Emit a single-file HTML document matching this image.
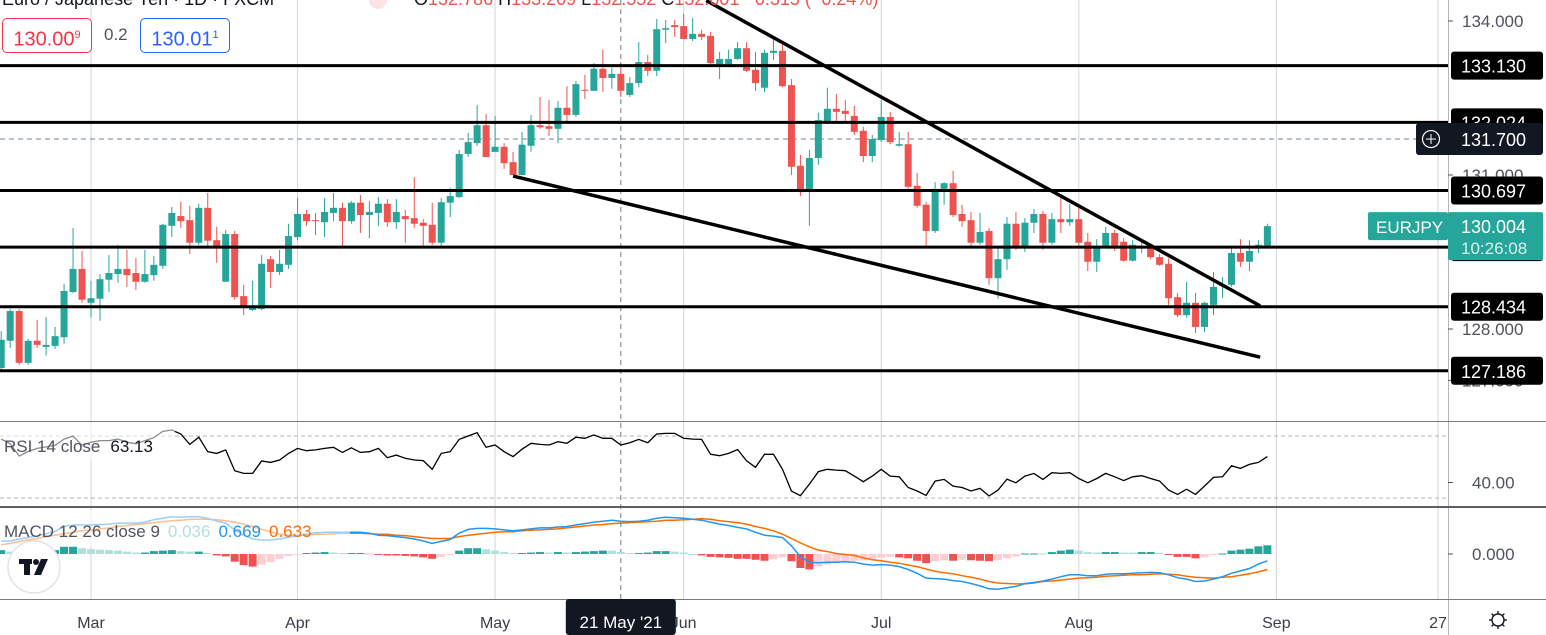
<!DOCTYPE html>
<html><head><meta charset="utf-8">
<style>
html,body{margin:0;padding:0;background:#fff;}
body{width:1546px;height:635px;overflow:hidden;position:relative;font-family:"Liberation Sans",sans-serif;}
svg{position:absolute;left:0;top:0;}
.box{position:absolute;height:33px;border-radius:5px;background:#fff;font-size:20px;line-height:33px;text-align:center;}
.box sup{font-size:11px;}
</style></head>
<body>
<svg id="chart" width="1546" height="635" xmlns="http://www.w3.org/2000/svg"></svg>
<div class="box" style="left:2px;top:18px;width:88px;border:1px solid #f23645;color:#f23645;">130.00<sup>9</sup></div>
<div style="position:absolute;left:104px;top:25px;font-size:17px;color:#50535e;">0.2</div>
<div class="box" style="left:140px;top:18px;width:88px;border:1px solid #2962ff;color:#2962ff;">130.01<sup>1</sup></div>
<script>
const startIndex = -10;
const opens = [127.24,127.77,128.35,127.34,127.77,127.65,127.67,127.84,128.72,129.17,
128.51,128.59,128.96,129.07,129.17,129.09,128.92,129.05,129.23,130.01,
130.20,130.12,129.68,130.36,129.73,128.92,129.85,128.64,128.37,128.39,
129.36,129.11,129.25,129.79,130.24,130.12,130.08,130.26,130.36,130.10,
130.46,130.22,130.26,130.44,130.08,130.20,130.16,130.07,130.03,129.68,
130.46,130.57,131.41,131.62,131.97,131.45,131.55,131.25,131.00,131.57,
131.97,131.95,131.90,132.31,132.17,132.66,132.64,133.07,132.89,132.97,
132.56,132.79,133.20,133.03,133.83,133.92,133.90,133.65,133.75,133.71,
133.16,133.16,133.26,133.47,133.05,132.70,133.38,133.42,132.75,131.18,
130.71,131.33,132.05,132.29,132.25,132.15,131.86,131.37,131.68,132.13,
131.57,131.60,130.79,130.42,129.91,130.73,130.84,130.24,130.12,129.68,
129.91,128.99,129.36,130.05,129.60,130.07,130.24,129.68,130.14,130.08,
130.14,129.70,129.31,129.60,129.87,129.70,129.33,129.58,129.60,129.40,
129.27,128.62,128.27,128.51,128.04,128.47,128.84,128.86,129.48,129.31,
129.60,129.60];
const closes = [127.79,128.35,127.34,127.77,127.69,127.69,127.86,128.74,129.17,128.57,
128.60,128.97,129.09,129.17,129.05,128.92,129.07,129.25,130.03,130.26,
130.10,129.68,130.36,129.72,129.58,129.85,128.62,128.45,128.45,129.27,
129.11,129.27,129.81,130.24,130.10,130.10,130.28,130.36,130.10,130.46,
130.22,130.28,130.44,130.08,130.28,130.14,130.05,130.01,129.68,130.47,
130.59,131.41,131.64,131.97,131.35,131.55,131.23,131.00,131.59,131.97,
131.93,131.90,132.31,132.17,132.77,132.64,133.07,132.89,132.97,132.64,
132.79,133.20,133.03,133.84,133.86,133.88,133.65,133.75,133.69,133.18,
133.26,133.26,133.47,133.03,132.79,133.38,133.42,132.73,131.16,130.71,
131.33,132.07,132.29,132.23,132.19,131.84,131.37,131.70,132.13,131.64,
131.60,130.77,130.40,129.91,130.73,130.84,130.22,130.10,129.68,129.89,
128.99,129.36,130.05,129.60,130.07,130.24,129.68,130.14,130.08,130.14,
129.68,129.31,129.62,129.87,129.60,129.33,129.64,129.62,129.40,129.25,
128.60,128.27,128.51,128.04,128.51,128.82,128.86,129.48,129.31,129.52,
129.64,130.004];
const highs = [127.96,128.39,128.39,127.81,128.18,128.23,128.04,128.88,129.97,129.52,
128.94,129.07,129.44,129.64,129.54,129.38,129.54,129.42,130.05,130.38,
130.48,130.40,130.44,130.65,129.99,129.93,129.91,128.86,128.94,129.44,
129.42,129.54,130.05,130.55,130.32,130.26,130.55,130.65,130.46,130.49,
130.61,130.49,130.57,130.53,130.53,130.32,130.96,130.14,130.46,130.55,
130.75,131.49,131.82,132.36,132.19,132.15,131.62,131.45,131.84,132.17,
132.52,132.46,132.44,132.73,132.83,132.95,133.18,133.44,133.09,133.20,
132.91,133.59,133.34,134.04,134.02,134.02,134.14,134.06,133.83,133.79,
133.40,133.44,133.59,133.59,133.40,133.44,133.69,133.59,132.87,131.39,
131.49,132.21,132.70,132.58,132.46,132.35,131.94,131.78,132.46,132.23,
131.84,131.84,131.04,130.47,130.86,130.86,131.08,130.42,130.28,130.26,
129.97,129.60,130.18,130.28,130.16,130.34,130.30,130.26,130.55,130.44,
130.36,129.87,129.75,129.99,129.93,129.77,129.73,129.71,129.66,129.46,
129.38,128.70,128.92,128.70,128.53,129.11,129.01,129.58,129.75,129.73,
129.73,130.05];
const lows = [127.16,127.63,127.30,127.30,127.63,127.48,127.61,127.71,128.70,128.51,
128.22,128.16,128.72,128.90,128.82,128.76,128.90,128.94,129.17,129.79,
129.97,129.46,129.64,129.60,129.29,128.92,128.57,128.27,128.35,128.37,
128.80,129.05,129.17,129.73,130.01,129.83,129.79,130.10,129.60,130.05,
129.87,129.77,130.01,129.99,129.95,129.68,129.97,129.62,129.64,129.60,
130.18,130.55,131.35,131.57,131.35,131.45,131.12,131.00,131.00,131.45,
131.90,131.76,131.62,132.03,132.13,132.48,132.64,132.62,132.68,132.52,
132.52,132.71,132.93,132.93,133.57,133.69,133.65,133.61,133.63,133.16,
132.87,133.10,133.24,133.01,132.64,132.62,133.24,132.71,131.00,130.59,
130.01,131.20,132.03,132.03,132.03,131.78,131.25,131.25,131.64,131.60,
131.55,130.71,130.36,129.60,129.87,130.42,130.18,129.99,129.60,129.64,
128.86,128.59,129.15,129.54,129.50,129.87,129.54,129.64,129.87,130.01,
129.60,129.13,129.11,129.58,129.52,129.31,129.31,129.48,129.36,129.23,
128.47,128.23,128.22,127.92,127.94,128.27,128.60,128.82,129.21,129.13,
129.48,129.60];
const rsiValues = [68,65,57,60,62,63,64,68,70,64,
66,67,67,68,66,65,67,69,73,73.9,
71.3,64.6,69.2,59.9,58.8,61,47.6,45.9,45.9,53.9,
53,54.5,58.8,62,60.5,61,62,62.7,59.4,62.4,
59.4,59.9,62,56,57.7,55.6,54.5,54.1,48.5,58.8,
59.9,67.8,70,72.1,62.7,64.2,59.9,56.7,61.5,65.3,
64.6,64.2,66.3,65.3,69.2,68.5,70.7,68.5,68.5,64.2,
65.7,67.8,65.7,71.3,71.7,71.7,68.5,68,67.8,58.2,
57.3,58.8,61.3,54,49.8,58.2,58.2,48.5,34.5,31.5,
39,47,48.5,48,47.6,44.1,40.5,44.1,48.5,44.1,
43.7,36.8,34.5,31.7,40.9,42,37.7,36.8,34.5,36.2,
31.3,35.1,42.2,39.8,44.1,45.9,42,46.3,45.9,46.3,
42.6,39.8,42.6,45.9,43.7,41.2,43.7,44.4,42.6,40.9,
35.1,32.3,35.7,32.3,37.7,43.3,43.7,50.8,49.1,51.7,
53,56.7];
const macdValues = [.27,.27,.31,.34,.37,.42,.47,.57,.60,.60,
.60,.61,.62,.64,.64,.64,.66,.71,.74,.77,
.76,.77,.77,.74,.68,.64,.50,.39,.31,.29,
.29,.31,.35,.37,.41,.44,.45,.45,.45,.45,
.45,.43,.39,.38,.36,.34,.31,.27,.22,.26,
.30,.43,.51,.53,.53,.52,.50,.48,.50,.52,
.54,.54,.56,.57,.60,.63,.66,.68,.70,.68,
.67,.68,.70,.74,.76,.75,.74,.72,.70,.66,
.62,.59,.55,.52,.45,.39,.37,.34,.17,-.06,
-.17,-.18,-.17,-.17,-.16,-.17,-.21,-.23,-.22,-.23,
-.26,-.32,-.40,-.50,-.51,-.52,-.55,-.57,-.61,-.66,
-.72,-.73,-.70,-.67,-.61,-.59,-.56,-.52,-.47,-.43,
-.43,-.45,-.45,-.42,-.41,-.41,-.40,-.39,-.38,-.39,
-.43,-.49,-.52,-.57,-.56,-.52,-.47,-.40,-.35,-.30,
-.21,-.14];
const signalValues = [.19,.22,.26,.29,.32,.36,.39,.42,.45,.48,
.50,.52,.54,.57,.59,.61,.63,.65,.67,.69,
.70,.72,.72,.72,.71,.69,.66,.62,.57,.51,
.46,.41,.39,.38,.39,.41,.41,.42,.43,.43,
.43,.42,.41,.41,.39,.38,.36,.34,.32,.32,
.32,.36,.39,.41,.43,.45,.46,.46,.48,.49,
.50,.51,.52,.54,.56,.58,.60,.61,.63,.64,
.65,.66,.67,.68,.70,.70,.71,.72,.73,.72,
.69,.67,.65,.62,.57,.53,.48,.41,.32,.23,
.15,.08,.05,.01,-.01,-.03,-.08,-.12,-.14,-.17,
-.19,-.23,-.26,-.31,-.36,-.39,-.41,-.45,-.48,-.52,
-.57,-.60,-.61,-.62,-.62,-.60,-.57,-.56,-.54,-.52,
-.50,-.49,-.48,-.46,-.45,-.44,-.43,-.43,-.42,-.41,
-.42,-.43,-.46,-.48,-.49,-.50,-.48,-.47,-.44,-.41,
-.37,-.32];
const levelPrices = [133.130, 132.024, 130.697, 129.594, 128.434, 127.186];
const priceTicks = [134, 131, 128, 127];
const monthLabels = ["Mar","Apr","May","Jun","Jul","Aug","Sep","27"];
const monthIndex = [0, 23, 45, 66, 88, 110, 132, 150];
const trendUpper = [[68.5, 134.40], [130.2, 128.45]];
const trendLower = [[47, 130.98], [130.2, 127.45]];
const crosshairIndex = 59;
const crosshairPrice = 131.700;

const NS = "http://www.w3.org/2000/svg";
const svg = document.getElementById('chart');
const X = i => 91 + i * 8.98;
const YP = p => 21 + (134 - p) * 51.33;
const YR = v => 436 + (70 - v) * 1.55;
const YM = v => 554 - v * 48.3;
const PLOT_R = 1448;
function mk(tag, attrs, parent) {
  const e = document.createElementNS(NS, tag);
  for (const k in attrs) e.setAttribute(k, attrs[k]);
  (parent || svg).appendChild(e);
  return e;
}
function txt(s, attrs, parent) { const t = mk('text', attrs, parent); t.textContent = s; return t; }

monthIndex.forEach((mi, k) => {
  const l = mk('line', {x1: X(mi), x2: X(mi), y1: 0, y2: 600, stroke: '#d1d4dc', 'stroke-width': 1});
  
  
});
const ch = mk('line', {x1: X(crosshairIndex), x2: X(crosshairIndex), y1: 0, y2: 600, stroke: '#787b86', 'stroke-width': 1, 'stroke-dasharray': '5,4'});


const chh = mk('line', {x1: 0, x2: PLOT_R, y1: YP(crosshairPrice), y2: YP(crosshairPrice), stroke: '#758696', 'stroke-width': 1, 'stroke-dasharray': '5,4'});



const cg = mk('g', {});


for (let k = 0; k < opens.length; k++) {
  const i = startIndex + k, x = X(i);
  const up = closes[k] >= opens[k];
  const col = up ? '#26a69a' : '#ef5350';
  const w = mk('line', {x1: x, x2: x, y1: YP(highs[k]), y2: YP(lows[k]), stroke: col, 'stroke-width': 1}, cg);
  
  
  const top = YP(Math.max(opens[k], closes[k])), bot = YP(Math.min(opens[k], closes[k]));
  const b = mk('rect', {x: x - 3.5, y: top, width: 7, height: Math.max(1, bot - top), fill: col}, cg);
  
  
}

[trendUpper, trendLower].forEach((t, n) => {
  const l = mk('line', {x1: X(t[0][0]), y1: YP(t[0][1]), x2: X(t[1][0]), y2: YP(t[1][1]), stroke: '#000', 'stroke-width': 3.5});
  
  
});

levelPrices.forEach(p => {
  const l = mk('line', {x1: 0, x2: PLOT_R, y1: YP(p), y2: YP(p), stroke: '#000', 'stroke-width': 3});
  
  
});

const ax = mk('rect', {x: PLOT_R, y: 0, width: 98, height: 600, fill: '#fff'});


mk('line', {x1: PLOT_R + 0.5, x2: PLOT_R + 0.5, y1: 0, y2: 635, stroke: '#b2b5be', 'stroke-width': 1});
priceTicks.forEach(p => {
  mk('line', {x1: PLOT_R, x2: PLOT_R + 5, y1: YP(p), y2: YP(p), stroke: '#50535e'});
  const t = txt(p.toFixed(3), {x: 1462, y: YP(p) + 6, 'font-size': 17, fill: '#50535e'});
  
  
});
levelPrices.forEach(p => {
  const y = YP(p);
  const r = mk('rect', {x: 1451, y: y - 14, width: 92, height: 28, rx: 3, fill: '#000'});
  
  
  const t = txt(p.toFixed(3), {x: 1461, y: y + 7, 'font-size': 18, fill: '#fff'});
  
  
});
{
  const y = YP(crosshairPrice);
  const r = mk('rect', {x: 1416, y: y - 16, width: 127, height: 32, rx: 3, fill: '#131722'});
  
  
  const c = mk('circle', {cx: 1431, cy: y, r: 8.5, fill: 'none', stroke: '#fff', 'stroke-width': 1.2});
  
  
  mk('line', {x1: 1426, x2: 1436, y1: y, y2: y, stroke: '#fff'});
  mk('line', {x1: 1431, x2: 1431, y1: y - 5, y2: y + 5, stroke: '#fff'});
  const t = txt(crosshairPrice.toFixed(3), {x: 1461, y: y + 7, 'font-size': 18, fill: '#fff'});
  
  
}
{
  const last = closes[closes.length - 1], y = YP(last);
  const a = mk('rect', {x: 1368, y: y - 14, width: 80, height: 28, rx: 2, fill: '#26a69a'});
  
  
  const t1 = txt('EURJPY', {x: 1376, y: y + 7, 'font-size': 17, fill: '#fff'});
  
  
  const b = mk('rect', {x: 1448, y: y - 14, width: 95, height: 48, rx: 2, fill: '#26a69a'});
  
  
  const t2 = txt(last.toFixed(3), {x: 1461, y: y + 7, 'font-size': 18, fill: '#fff'});
  
  
  const t3 = txt('10:26:08', {x: 1461, y: y + 28, 'font-size': 17, fill: '#d6f0ed'});
  
  
}

mk('line', {x1: 0, x2: 1546, y1: 421.5, y2: 421.5, stroke: '#787b86', 'stroke-width': 1});
mk('line', {x1: 0, x2: 1546, y1: 507, y2: 507, stroke: '#5d606b', 'stroke-width': 2});
mk('line', {x1: 0, x2: 1546, y1: 599.5, y2: 599.5, stroke: '#787b86', 'stroke-width': 1});

[70, 30].forEach(v => {
  const l = mk('line', {x1: 0, x2: PLOT_R, y1: YR(v), y2: YR(v), stroke: '#b2b5be', 'stroke-dasharray': '4,3'});
  
  
});
{
  const pts = rsiValues.map((v, k) => X(startIndex + k).toFixed(1) + ',' + YR(v).toFixed(1)).join(' ');
  const pl = mk('polyline', {points: pts, fill: 'none', stroke: '#000', 'stroke-width': 1.3});
  
  
  mk('line', {x1: PLOT_R, x2: PLOT_R + 5, y1: YR(40), y2: YR(40), stroke: '#50535e'});
  const t = txt('40.00', {x: 1472, y: YR(40) + 6, 'font-size': 17, fill: '#50535e'});
  
  
}

{
  const g = mk('g', {});
  
  
  let prev = null;
  for (let k = 0; k < macdValues.length; k++) {
    const h = macdValues[k] - signalValues[k];
    let col;
    if (h >= 0) col = (prev === null || h >= prev) ? '#26a69a' : '#b2dfdb';
    else col = (prev === null || h <= prev) ? '#ef5350' : '#ffcdd2';
    prev = h;
    const y0 = YM(0), y1 = YM(h);
    const r = mk('rect', {x: X(startIndex + k) - 4, y: Math.min(y0, y1), width: 8, height: Math.max(1, Math.abs(y1 - y0)), fill: col}, g);
    
    
  }
  const sp = signalValues.map((v, k) => X(startIndex + k).toFixed(1) + ',' + YM(v).toFixed(1)).join(' ');
  const s = mk('polyline', {points: sp, fill: 'none', stroke: '#ff6d00', 'stroke-width': 1.5});
  
  
  const mp = macdValues.map((v, k) => X(startIndex + k).toFixed(1) + ',' + YM(v).toFixed(1)).join(' ');
  const m = mk('polyline', {points: mp, fill: 'none', stroke: '#2196f3', 'stroke-width': 1.5});
  
  
  mk('line', {x1: PLOT_R, x2: PLOT_R + 5, y1: YM(0), y2: YM(0), stroke: '#50535e'});
  const t = txt('0.000', {x: 1472, y: YM(0) + 6, 'font-size': 17, fill: '#50535e'});
  
  
}

mk('rect', {x: 0, y: 423, width: 175, height: 38, fill: 'rgba(255,255,255,0.55)'});
mk('rect', {x: 0, y: 510, width: 350, height: 36, fill: 'rgba(255,255,255,0.55)'});
{
  const t = txt('', {x: 4, y: 452, 'font-size': 17, fill: '#131722'});
  
  
  t.innerHTML = '<tspan fill="#50535e">RSI 14 close</tspan><tspan dx="10">63.13</tspan>';
  const m = txt('', {x: 4, y: 537, 'font-size': 17, fill: '#50535e'});
  
  
  m.innerHTML = '<tspan>MACD 12 26 close 9</tspan><tspan dx="8" fill="#b2dfdb">0.036</tspan><tspan dx="8" fill="#2196f3">0.669</tspan><tspan dx="8" fill="#ff6d00">0.633</tspan>';
}
{
  const g = mk('g', {});
  
  
  mk('circle', {cx: 34, cy: 567, r: 26, fill: '#fff', stroke: '#e0e3eb', 'stroke-width': 1.5}, g);
  mk('rect', {x: 19, y: 559, width: 13, height: 5, fill: '#131722'}, g);
  mk('rect', {x: 24, y: 559, width: 6, height: 16, fill: '#131722'}, g);
  mk('circle', {cx: 36, cy: 562, r: 3, fill: '#131722'}, g);
  mk('polygon', {points: '41,559 48,559 41,575 34,575', fill: '#131722'}, g);
}

monthLabels.forEach((m, k) => {
  const t = txt(m, {x: X(monthIndex[k]), y: 628, 'font-size': 16, fill: '#3a3d47', 'text-anchor': 'middle'});
  
  
});
{
  const x = X(crosshairIndex);
  const r = mk('rect', {x: x - 55, y: 599, width: 110, height: 36, rx: 3, fill: '#131722'});
  
  
  const t = txt("21 May '21", {x: x, y: 628, 'font-size': 17, fill: '#fff', 'text-anchor': 'middle'});
  
  
}
{
  const g = mk('g', {fill: 'none', stroke: '#131722', 'stroke-width': 1.4});
  
  
  mk('circle', {cx: 1498, cy: 620, r: 6}, g);
  for (let a = 0; a < 8; a++) {
    const ang = a * Math.PI / 4;
    mk('line', {x1: 1498 + 6 * Math.cos(ang), y1: 620 + 6 * Math.sin(ang), x2: 1498 + 9 * Math.cos(ang), y2: 620 + 9 * Math.sin(ang)}, g);
  }
}
{
  const t = txt('', {x: 2, y: 5, 'font-size': 18, fill: '#131722'});
  
  
  t.innerHTML = 'Euro / Japanese Yen · 1D · FXCM';
  const c = mk('circle', {cx: 378, cy: 0, r: 9, fill: '#fde2e4'});
  
  
  const o = txt('', {x: 414, y: 5, 'font-size': 18, fill: '#ef5350'});
  
  
  o.innerHTML = '<tspan fill="#131722">O</tspan>132.786 <tspan fill="#131722">H</tspan>133.209 <tspan fill="#131722">L</tspan>132.552 <tspan fill="#131722">C</tspan>132.601 −0.315 (−0.24%)';
}
</script>
</body></html>
